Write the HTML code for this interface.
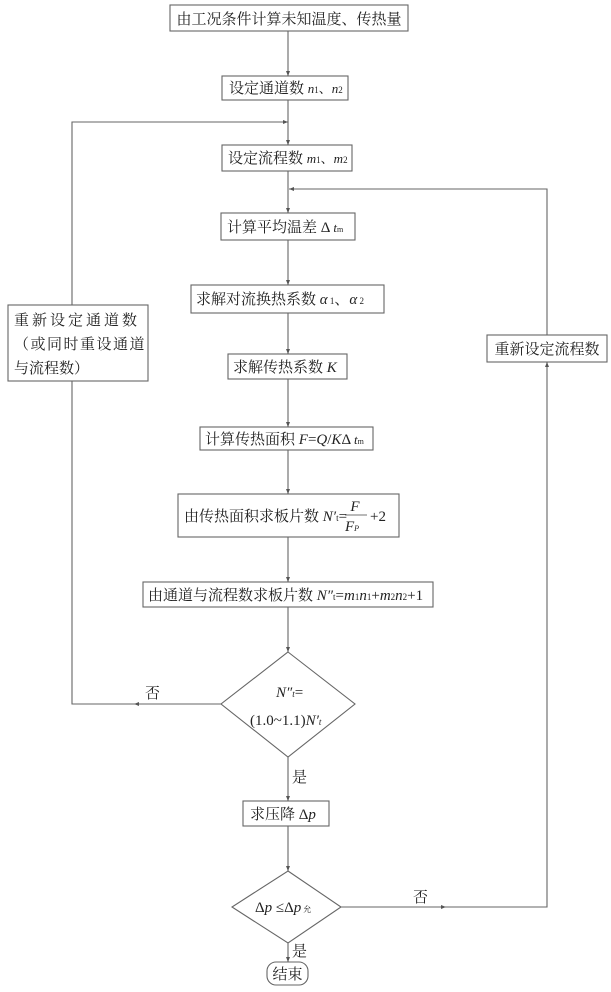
<!DOCTYPE html>
<html><head><meta charset="utf-8"><style>
html,body{margin:0;padding:0;background:#fff;}
svg{display:block;}
text{font-family:"Liberation Serif","Noto Serif CJK SC",serif;font-size:15px;fill:#222;}
.i{font-style:italic;}
</style></head><body>
<svg width="611" height="992" viewBox="0 0 611 992" xmlns="http://www.w3.org/2000/svg">
<defs>
<marker id="a" markerWidth="6" markerHeight="6" refX="5" refY="3" orient="auto" markerUnits="userSpaceOnUse">
<path d="M0,1 L5,3 L0,5 z" fill="#555"/></marker>
</defs>
<g fill="none" stroke="#666" stroke-width="1.1">
<!-- boxes -->
<rect x="170" y="5" width="238" height="26"/>
<rect x="222" y="76" width="126" height="24"/>
<rect x="222" y="145" width="130" height="26"/>
<rect x="221" y="213" width="134" height="27"/>
<rect x="191" y="285" width="193" height="28"/>
<rect x="228" y="354" width="119" height="25"/>
<rect x="200" y="427" width="173" height="23"/>
<rect x="178" y="494" width="221" height="43"/>
<rect x="143" y="582" width="290" height="25"/>
<rect x="243" y="801" width="86" height="25"/>
<rect x="8" y="305" width="140" height="76"/>
<rect x="487" y="335" width="120" height="27"/>
<rect x="267" y="962" width="41" height="23" rx="9"/>
<polygon points="288,652 355,704 288,757 221,704"/>
<polygon points="288,871 341,907 288,943 232,907"/>
<!-- main connectors -->
<line x1="288" y1="31" x2="288" y2="76" marker-end="url(#a)"/>
<line x1="288" y1="100" x2="288" y2="145" marker-end="url(#a)"/>
<line x1="288" y1="171" x2="288" y2="213" marker-end="url(#a)"/>
<line x1="288" y1="240" x2="288" y2="285" marker-end="url(#a)"/>
<line x1="288" y1="313" x2="288" y2="354" marker-end="url(#a)"/>
<line x1="288" y1="379" x2="288" y2="427" marker-end="url(#a)"/>
<line x1="288" y1="450" x2="288" y2="494" marker-end="url(#a)"/>
<line x1="288" y1="537" x2="288" y2="582" marker-end="url(#a)"/>
<line x1="288" y1="607" x2="288" y2="652" marker-end="url(#a)"/>
<line x1="288" y1="757" x2="288" y2="801" marker-end="url(#a)"/>
<line x1="288" y1="826" x2="288" y2="871" marker-end="url(#a)"/>
<line x1="288" y1="943" x2="288" y2="962" marker-end="url(#a)"/>
<!-- left loop -->
<line x1="221" y1="704" x2="134" y2="704" marker-end="url(#a)"/>
<polyline points="134,704 72,704 72,381"/>
<polyline points="72,305 72,122 288,122" marker-end="url(#a)"/>
<!-- right loop -->
<line x1="341" y1="907" x2="446" y2="907" marker-end="url(#a)"/>
<polyline points="446,907 547,907 547,362" marker-end="url(#a)"/>
<polyline points="547,335 547,189 289,189" marker-end="url(#a)"/>
</g>
<text x="289" y="24" text-anchor="middle">由工况条件计算未知温度、传热量</text>
<text x="229" y="93">设定通道数 <tspan class="i" font-size="13">n</tspan><tspan font-size="9">1</tspan><tspan font-size="13">、</tspan><tspan class="i" font-size="13">n</tspan><tspan font-size="9">2</tspan></text>
<text x="228" y="163">设定流程数 <tspan class="i" font-size="13">m</tspan><tspan font-size="9">1</tspan><tspan font-size="13">、</tspan><tspan class="i" font-size="13">m</tspan><tspan font-size="9">2</tspan></text>
<text x="227" y="232">计算平均温差 Δ <tspan class="i" font-size="13">t</tspan><tspan font-size="8">m</tspan></text>
<text x="196" y="304">求解对流换热系数 <tspan class="i">α</tspan><tspan font-size="9"> 1</tspan>、<tspan class="i">α</tspan><tspan font-size="9"> 2</tspan></text>
<text x="233" y="372">求解传热系数 <tspan class="i">K</tspan></text>
<text x="205" y="444">计算传热面积 <tspan class="i">F</tspan>=<tspan class="i">Q</tspan>/<tspan class="i">K</tspan>Δ <tspan class="i" font-size="13">t</tspan><tspan font-size="8">m</tspan></text>
<text x="184" y="521">由传热面积求板片数 <tspan class="i">N′</tspan><tspan font-size="9">t</tspan>=</text>
<text x="355" y="511" class="i" font-size="13" text-anchor="middle">F</text>
<line x1="345" y1="515" x2="367" y2="515" stroke="#444" stroke-width="0.8"/>
<text x="352" y="531" class="i" font-size="13" text-anchor="middle">F<tspan font-size="8">P</tspan></text>
<text x="370" y="521">+2</text>
<text x="148" y="600">由通道与流程数求板片数 <tspan class="i">N″</tspan><tspan font-size="9">t</tspan>=<tspan class="i">m</tspan><tspan font-size="9">1</tspan><tspan class="i">n</tspan><tspan font-size="9">1</tspan>+<tspan class="i">m</tspan><tspan font-size="9">2</tspan><tspan class="i">n</tspan><tspan font-size="9">2</tspan>+1</text>
<text x="276" y="697" class="i">N″<tspan font-size="9">t</tspan><tspan font-style="normal">=</tspan></text>
<text x="250" y="725">(1.0~1.1)<tspan class="i">N′</tspan><tspan class="i" font-size="9">t</tspan></text>
<text x="145" y="698">否</text>
<text x="292" y="782">是</text>
<text x="250" y="819">求压降 Δ<tspan class="i">p</tspan></text>
<text x="255" y="912">Δ<tspan class="i">p</tspan> ≤Δ<tspan class="i">p</tspan><tspan font-size="8"> 允</tspan></text>
<text x="413" y="902">否</text>
<text x="292" y="956">是</text>
<text x="287.5" y="979" text-anchor="middle">结束</text>
<text x="14" y="325" letter-spacing="3">重新设定通道数</text>
<text x="14" y="349" letter-spacing="1.5">（或同时重设通道</text>
<text x="14" y="373">与流程数）</text>
<text x="547" y="354" text-anchor="middle">重新设定流程数</text>
</svg>
</body></html>
